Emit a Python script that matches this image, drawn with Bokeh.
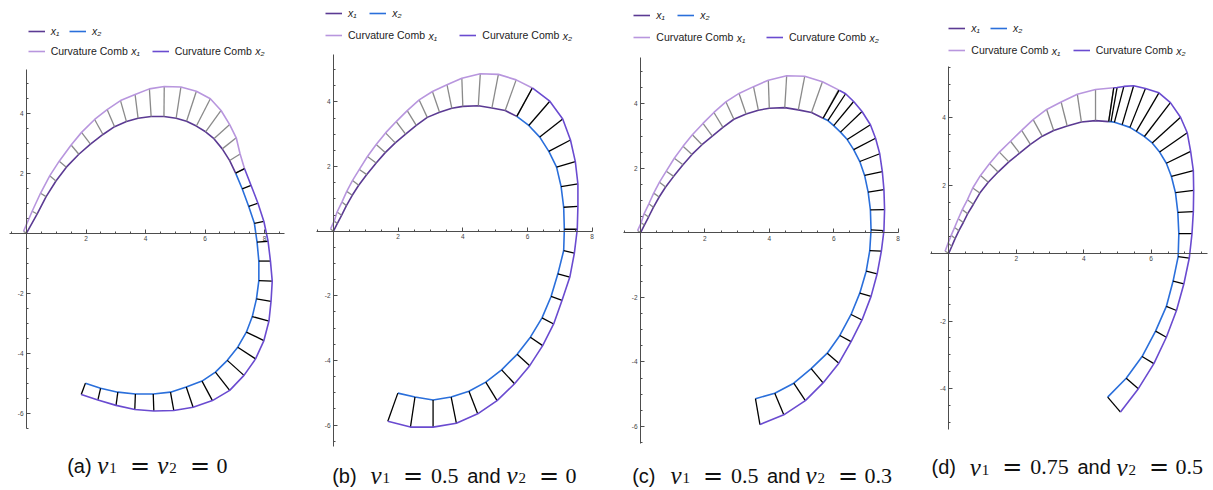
from bokeh.plotting import figure
from bokeh.models import Range1d, LinearAxis, FixedTicker, Legend, LegendItem, Label
from bokeh.layouts import row
from bokeh.embed import file_html
from bokeh.resources import INLINE

# ---------------- data ----------------
# panel (a): v1 = v2 = 0
a_x1_cx = [0.00, 0.36, 0.66, 0.99, 1.34, 1.76, 2.15, 2.57, 2.96, 3.36, 3.75, 4.19, 4.62, 5.03, 5.38, 5.71, 6.02, 6.30, 6.58, 6.83, 7.03]
a_x1_cy = [0.00, 0.64, 1.22, 1.74, 2.20, 2.63, 2.97, 3.29, 3.55, 3.72, 3.83, 3.89, 3.89, 3.83, 3.73, 3.57, 3.38, 3.15, 2.81, 2.42, 2.00]
a_x1_kx = [-0.10, 0.19, 0.47, 0.78, 1.10, 1.50, 1.85, 2.29, 2.71, 3.16, 3.65, 4.13, 4.63, 5.19, 5.71, 6.18, 6.54, 6.83, 7.05, 7.18, 7.33]
a_x1_ky = [0.06, 0.73, 1.33, 1.91, 2.40, 2.94, 3.36, 3.79, 4.12, 4.42, 4.62, 4.81, 4.89, 4.87, 4.73, 4.48, 4.09, 3.62, 3.18, 2.64, 2.15]
a_x2_cx = [7.03, 7.25, 7.47, 7.66, 7.75, 7.81, 7.81, 7.73, 7.59, 7.39, 7.10, 6.75, 6.35, 5.90, 5.37, 4.84, 4.26, 3.66, 3.07, 2.49, 1.98]
a_x2_cy = [2.00, 1.48, 0.89, 0.33, -0.30, -0.93, -1.58, -2.19, -2.78, -3.30, -3.80, -4.24, -4.63, -4.93, -5.13, -5.30, -5.36, -5.36, -5.30, -5.17, -5.00]
a_x2_kx = [7.33, 7.55, 7.78, 7.98, 8.12, 8.20, 8.26, 8.22, 8.15, 7.98, 7.70, 7.31, 6.83, 6.25, 5.60, 4.95, 4.28, 3.64, 3.01, 2.40, 1.84]
a_x2_ky = [2.15, 1.59, 1.00, 0.39, -0.27, -0.93, -1.60, -2.27, -2.93, -3.58, -4.19, -4.74, -5.24, -5.58, -5.80, -5.91, -5.93, -5.88, -5.74, -5.56, -5.38]

# panel (b): v1 = 0.5, v2 = 0
b_x1_cx = [0.00, 0.12, 0.25, 0.40, 0.58, 0.78, 1.03, 1.32, 1.60, 1.91, 2.23, 2.56, 2.90, 3.28, 3.66, 4.00, 4.48, 4.90, 5.31, 5.67]
b_x1_cy = [0.00, 0.24, 0.49, 0.79, 1.11, 1.42, 1.75, 2.11, 2.43, 2.73, 3.00, 3.27, 3.52, 3.68, 3.80, 3.86, 3.88, 3.81, 3.73, 3.55]
b_x1_kx = [-0.09, 0.02, 0.11, 0.26, 0.41, 0.59, 0.80, 1.05, 1.32, 1.61, 1.94, 2.28, 2.65, 3.06, 3.51, 3.97, 4.54, 5.10, 5.65, 6.15]
b_x1_ky = [0.07, 0.31, 0.59, 0.90, 1.23, 1.57, 1.91, 2.31, 2.68, 3.04, 3.39, 3.73, 4.06, 4.32, 4.53, 4.73, 4.87, 4.85, 4.68, 4.43]
b_x2_cx = [5.67, 6.04, 6.38, 6.66, 6.90, 7.04, 7.12, 7.14, 7.12, 6.94, 6.73, 6.45, 6.09, 5.68, 5.20, 4.71, 4.19, 3.64, 3.08, 2.52, 1.99]
b_x2_cy = [3.55, 3.27, 2.91, 2.47, 1.98, 1.38, 0.74, 0.06, -0.60, -1.32, -2.02, -2.68, -3.28, -3.81, -4.29, -4.67, -4.95, -5.13, -5.22, -5.13, -5.01]
b_x2_kx = [6.15, 6.69, 7.09, 7.33, 7.48, 7.56, 7.56, 7.54, 7.45, 7.31, 7.07, 6.81, 6.47, 6.07, 5.60, 5.06, 4.46, 3.80, 3.08, 2.38, 1.68]
b_x2_ky = [4.43, 4.02, 3.47, 2.82, 2.15, 1.46, 0.77, 0.06, -0.68, -1.42, -2.14, -2.87, -3.54, -4.16, -4.72, -5.24, -5.65, -5.94, -6.06, -6.06, -5.88]

# panel (c): v1 = 0.5, v2 = 0.3 (x1 is the same as in (b))
c_x1_cx = list(b_x1_cx)
c_x1_cy = list(b_x1_cy)
c_x1_kx = list(b_x1_kx)
c_x1_ky = list(b_x1_ky)
c_x2_cx = [5.67, 5.82, 6.00, 6.21, 6.42, 6.62, 6.81, 6.96, 7.07, 7.14, 7.16, 7.12, 7.01, 6.81, 6.54, 6.19, 5.80, 5.30, 4.76, 4.17, 3.57]
c_x2_cy = [3.55, 3.48, 3.32, 3.12, 2.89, 2.58, 2.21, 1.78, 1.26, 0.71, 0.09, -0.55, -1.19, -1.87, -2.53, -3.18, -3.73, -4.21, -4.66, -4.97, -5.14]
c_x2_kx = [6.17, 6.37, 6.62, 6.88, 7.14, 7.30, 7.43, 7.51, 7.56, 7.58, 7.56, 7.48, 7.35, 7.16, 6.88, 6.54, 6.16, 5.67, 5.12, 4.45, 3.71]
c_x2_ky = [4.42, 4.31, 4.07, 3.76, 3.35, 2.93, 2.45, 1.90, 1.34, 0.72, 0.07, -0.57, -1.27, -1.97, -2.70, -3.37, -4.04, -4.65, -5.20, -5.64, -5.94]

# panel (d): v1 = 0.75, v2 = 0.5
d_x1_cx = [0.00, 0.09, 0.19, 0.30, 0.43, 0.56, 0.73, 0.92, 1.17, 1.46, 1.78, 2.10, 2.42, 2.77, 3.11, 3.51, 3.93, 4.35, 4.74]
d_x1_cy = [0.00, 0.21, 0.44, 0.67, 0.91, 1.17, 1.45, 1.78, 2.10, 2.40, 2.70, 2.96, 3.22, 3.46, 3.63, 3.76, 3.88, 3.92, 3.89]
d_x1_kx = [-0.11, -0.02, 0.07, 0.17, 0.28, 0.40, 0.55, 0.71, 0.94, 1.21, 1.50, 1.83, 2.16, 2.50, 2.90, 3.33, 3.81, 4.35, 4.89]
d_x1_ky = [0.06, 0.30, 0.53, 0.76, 1.02, 1.29, 1.58, 1.93, 2.30, 2.65, 2.99, 3.31, 3.63, 3.95, 4.25, 4.47, 4.70, 4.84, 4.89]
d_x2_cx = [4.74, 4.81, 4.91, 5.14, 5.37, 5.56, 5.80, 6.03, 6.25, 6.45, 6.60, 6.72, 6.79, 6.82, 6.80, 6.65, 6.45, 6.13, 5.73, 5.26, 4.71]
d_x2_cy = [3.89, 3.89, 3.87, 3.80, 3.72, 3.60, 3.45, 3.26, 2.99, 2.66, 2.27, 1.79, 1.21, 0.58, -0.10, -0.82, -1.57, -2.30, -3.05, -3.69, -4.25]
d_x2_kx = [4.89, 4.99, 5.19, 5.48, 5.83, 6.23, 6.57, 6.87, 7.07, 7.17, 7.25, 7.26, 7.25, 7.21, 7.13, 6.97, 6.75, 6.45, 6.08, 5.62, 5.09]
d_x2_ky = [4.89, 4.90, 4.93, 4.95, 4.87, 4.74, 4.45, 4.02, 3.56, 3.01, 2.44, 1.86, 1.23, 0.58, -0.14, -0.90, -1.69, -2.48, -3.26, -4.00, -4.69]

# axis ticks
x_major_abc = [2, 4, 6, 8]
y_major_abc = [-6, -4, -2, 2, 4]
x_major_d = [2, 4, 6]
y_major_d = [-4, -2, 2, 4]

# legend texts
leg_labels = ["x\u2081", "x\u2082", "Curvature Comb", "Curvature Comb"]
leg_subs = ["x\u2081", "x\u2082"]

# ---------------- styling ----------------
X1_COL = "#5b3a93"
X2_COL = "#2a6fdb"
K1_COL = "#b896de"
K2_COL = "#6a4bd0"
T1_COL = "#8a8a8a"
T2_COL = "#000000"
AX_COL = "#4d4d4d"
SANS = "Liberation Sans"
SERIF = "Liberation Serif"

PAGE_TOP = 0
FIG_H = 490
FIG_BOTTOM = PAGE_TOP + FIG_H


def minor_list(lo, hi, majors):
    out = []
    k = int(lo * 2) - 1
    while k / 2.0 <= hi:
        v = k / 2.0
        if lo - 1e-9 <= v <= hi + 1e-9 and v != 0 and v not in majors:
            out.append(v)
        k += 1
    return out


def add_text(p, left, x, base, text, font, size, style="normal", baseline="alphabetic", color="#111111"):
    p.add_layout(Label(x=x - left, y=FIG_BOTTOM - base, x_units="screen", y_units="screen",
                       text=text, text_font=font, text_font_size="%.1fpx" % size,
                       text_font_style=style, text_baseline=baseline, text_align="left",
                       text_color=color))


def add_caption(p, left, base, pieces):
    for kind, x, content in pieces:
        if kind == "sans":
            add_text(p, left, x, base, content, SANS, 20)
        elif kind == "var":
            add_text(p, left, x, base, content[0], SERIF, 25, "italic")
            add_text(p, left, x + 12, base + 2.5, content[1], SERIF, 15)
        elif kind == "eq":
            add_text(p, left, x, base, "=", "DejaVu Serif", 24)
        else:
            add_text(p, left, x, base, content, SERIF, 22)


def add_leg(p, left, xs, yc, label, rend, italic=False):
    leg = Legend(items=[LegendItem(label=label, renderers=[rend])],
                 location=(xs - left, FIG_BOTTOM - yc - 6), orientation="horizontal",
                 glyph_width=17, glyph_height=12, label_height=12, label_width=8,
                 label_standoff=6, padding=0, margin=0, spacing=0,
                 border_line_color=None, background_fill_alpha=0,
                 label_text_font=SANS, label_text_font_size="10.5px",
                 label_text_font_style="italic" if italic else "normal",
                 label_text_color="#222222", label_text_baseline="middle")
    p.add_layout(leg)


def panel(left, width, ox, oy, ux, uy, xb, yb, xmaj, ymaj, data, legpos, caption):
    x0 = (left - ox) / ux
    x1 = (left + width - ox) / ux
    y1 = (oy - PAGE_TOP) / uy
    y0 = (oy - FIG_BOTTOM) / uy
    p = figure(width=width, height=FIG_H, x_range=Range1d(x0, x1), y_range=Range1d(y0, y1),
               output_backend="svg", toolbar_location=None, x_axis_location=None,
               y_axis_location=None, min_border=0, outline_line_color=None)
    p.background_fill_color = "white"
    p.border_fill_color = "white"
    p.grid.visible = False

    for bnds, maj, side in ((xb, xmaj, "below"), (yb, ymaj, "left")):
        ax = LinearAxis(fixed_location=0, bounds=bnds,
                        ticker=FixedTicker(ticks=maj, minor_ticks=minor_list(bnds[0], bnds[1], maj)))
        ax.axis_line_color = AX_COL
        ax.axis_line_width = 1
        ax.major_tick_line_color = AX_COL
        ax.minor_tick_line_color = AX_COL
        ax.major_tick_in = 4
        ax.major_tick_out = 0
        ax.minor_tick_in = 2
        ax.minor_tick_out = 0
        ax.major_label_text_font = SANS
        ax.major_label_text_font_size = "6.5px"
        ax.major_label_text_color = "#444444"
        ax.major_label_standoff = 3
        ax.major_label_overrides = {v: ("-%d" % (-v) if v < 0 else "%d" % v) for v in maj}
        p.add_layout(ax, side)

    (c1x, c1y, k1x, k1y, c2x, c2y, k2x, k2y) = data
    r_x1 = p.line(c1x, c1y, line_color=X1_COL, line_width=1.6)
    r_x2 = p.line(c2x, c2y, line_color=X2_COL, line_width=1.6)
    p.segment(x0=c1x, y0=c1y, x1=k1x, y1=k1y, line_color=T1_COL, line_width=1.3)
    r_k1 = p.line(k1x, k1y, line_color=K1_COL, line_width=1.6)
    p.segment(x0=c2x, y0=c2y, x1=k2x, y1=k2y, line_color=T2_COL, line_width=1.3)
    r_k2 = p.line(k2x, k2y, line_color=K2_COL, line_width=1.6)

    (r1y, r1a, r1b, r2y, r2a, r2b) = legpos
    add_leg(p, left, r1a, r1y, leg_labels[0], r_x1, italic=True)
    add_leg(p, left, r1b, r1y, leg_labels[1], r_x2, italic=True)
    add_leg(p, left, r2a, r2y, leg_labels[2], r_k1)
    add_leg(p, left, r2b, r2y, leg_labels[3], r_k2)
    for xs, sub in ((r2a, leg_subs[0]), (r2b, leg_subs[1])):
        add_text(p, left, xs + 23 + 80, r2y, sub, SANS, 10.5, "italic", "middle", "#222222")

    base, pieces = caption
    add_caption(p, left, base, pieces)
    return p


pa = panel(0, 300, 26.0, 232.67, 29.75, 30.0, (-0.56, 8.68), (-6.5, 5.46), x_major_abc, y_major_abc,
           (a_x1_cx, a_x1_cy, a_x1_kx, a_x1_ky, a_x2_cx, a_x2_cy, a_x2_kx, a_x2_ky),
           (30.7, 27.7, 69.0, 50.7, 27.7, 151.7),
           (465, [("sans", 66.7, "(a)"), ("var", 96.7, "v1"), ("eq", 129.5, ""),
                  ("var", 156.7, "v2"), ("eq", 189.5, ""), ("num", 216.0, "0")]))

pb = panel(300, 303, 333.0, 230.67, 32.33, 32.33, (-0.53, 8.0), (-6.66, 5.48), x_major_abc, y_major_abc,
           (b_x1_cx, b_x1_cy, b_x1_kx, b_x1_ky, b_x2_cx, b_x2_cy, b_x2_kx, b_x2_ky),
           (12.7, 325.0, 369.3, 35.0, 325.0, 459.3),
           (475, [("sans", 331.7, "(b)"), ("var", 370, "v1"), ("eq", 402.5, ""), ("num", 430.5, "0.5"),
                  ("sans", 466.7, "and"), ("var", 506, "v2"), ("eq", 538.5, ""), ("num", 565, "0")]))

pc = panel(603, 305, 640.0, 232.33, 32.2, 32.27, (-0.52, 8.02), (-6.53, 5.44), x_major_abc, y_major_abc,
           (c_x1_cx, c_x1_cy, c_x1_kx, c_x1_ky, c_x2_cx, c_x2_cy, c_x2_kx, c_x2_ky),
           (15.0, 633.3, 677.3, 37.3, 633.3, 766.0),
           (475, [("sans", 631.7, "(c)"), ("var", 670, "v1"), ("eq", 702.5, ""), ("num", 730.5, "0.5"),
                  ("sans", 766.5, "and"), ("var", 805, "v2"), ("eq", 837.5, ""), ("num", 864, "0.3")]))

pd = panel(908, 305, 948.3, 252.8, 33.73, 33.85, (-0.54, 7.66), (-5.2, 5.51), x_major_d, y_major_d,
           (d_x1_cx, d_x1_cy, d_x1_kx, d_x1_ky, d_x2_cx, d_x2_cy, d_x2_kx, d_x2_ky),
           (28.3, 948.3, 990.0, 50.0, 948.3, 1072.7),
           (466.7, [("sans", 931, "(d)"), ("var", 969.3, "v1"), ("eq", 1001.8, ""), ("num", 1029.8, "0.75"),
                    ("sans", 1077, "and"), ("var", 1116, "v2"), ("eq", 1148.5, ""), ("num", 1175, "0.5")]))

layout = row(pa, pb, pc, pd)
open("out.html", "w").write(file_html(layout, INLINE))
